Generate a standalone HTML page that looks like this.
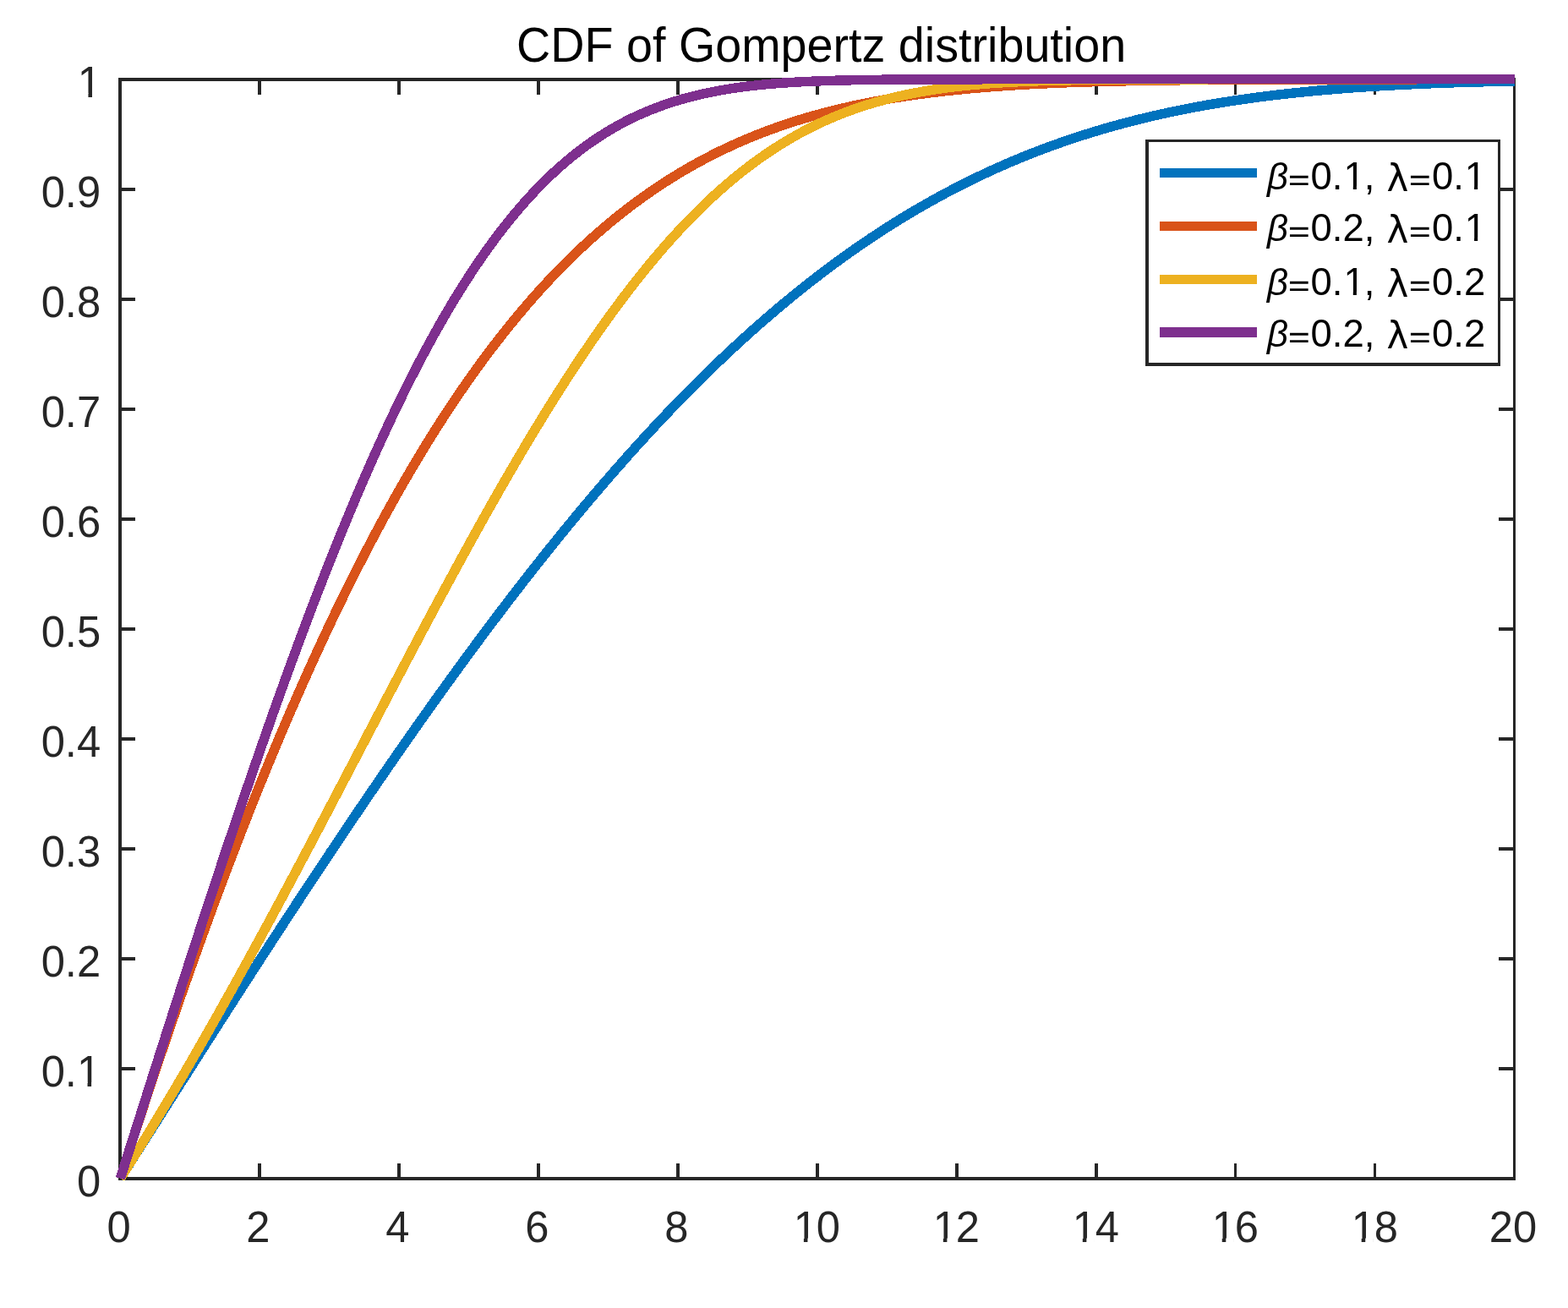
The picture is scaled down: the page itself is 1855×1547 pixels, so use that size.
<!DOCTYPE html>
<html lang="en"><head><meta charset="utf-8"><title>CDF of Gompertz distribution</title>
<style>html,body{margin:0;padding:0;background:#fff;width:1855px;height:1547px}svg{display:block}text{font-family:"Liberation Sans", sans-serif;white-space:pre}</style></head><body>
<svg width="1855" height="1547" viewBox="0 0 1855 1547">
<rect width="1855" height="1547" fill="#fff"/>
<g fill="#262626" shape-rendering="crispEdges">
<rect x="140" y="92" width="4" height="1304"/>
<rect x="1790" y="92" width="3" height="1304"/>
<rect x="140" y="92" width="1653" height="4"/>
<rect x="140" y="1392" width="1653" height="4"/>
<rect x="305" y="92" width="4" height="20"/><rect x="305" y="1376" width="4" height="20"/>
<rect x="470" y="92" width="4" height="20"/><rect x="470" y="1376" width="4" height="20"/>
<rect x="635" y="92" width="4" height="20"/><rect x="635" y="1376" width="4" height="20"/>
<rect x="800" y="92" width="4" height="20"/><rect x="800" y="1376" width="4" height="20"/>
<rect x="965" y="92" width="4" height="20"/><rect x="965" y="1376" width="4" height="20"/>
<rect x="1130" y="92" width="4" height="20"/><rect x="1130" y="1376" width="4" height="20"/>
<rect x="1295" y="92" width="4" height="20"/><rect x="1295" y="1376" width="4" height="20"/>
<rect x="1460" y="92" width="3" height="20"/><rect x="1460" y="1376" width="3" height="20"/>
<rect x="1625" y="92" width="3" height="20"/><rect x="1625" y="1376" width="3" height="20"/>
<rect x="140" y="1262" width="20" height="4"/><rect x="1773" y="1262" width="20" height="4"/>
<rect x="140" y="1132" width="20" height="4"/><rect x="1773" y="1132" width="20" height="4"/>
<rect x="140" y="1002" width="20" height="4"/><rect x="1773" y="1002" width="20" height="4"/>
<rect x="140" y="872" width="20" height="4"/><rect x="1773" y="872" width="20" height="4"/>
<rect x="140" y="742" width="20" height="4"/><rect x="1773" y="742" width="20" height="4"/>
<rect x="140" y="612" width="20" height="4"/><rect x="1773" y="612" width="20" height="4"/>
<rect x="140" y="482" width="20" height="4"/><rect x="1773" y="482" width="20" height="4"/>
<rect x="140" y="352" width="20" height="4"/><rect x="1773" y="352" width="20" height="4"/>
<rect x="140" y="222" width="20" height="4"/><rect x="1773" y="222" width="20" height="4"/>
</g>
<g fill="#262626" font-size="50.7">
<text transform="translate(140.5 1469.3) scale(1 1.03)" text-anchor="middle">0</text>
<text transform="translate(305.45 1469.3) scale(1 1.03)" text-anchor="middle">2</text>
<text transform="translate(470.4 1469.3) scale(1 1.03)" text-anchor="middle">4</text>
<text transform="translate(635.35 1469.3) scale(1 1.03)" text-anchor="middle">6</text>
<text transform="translate(800.3 1469.3) scale(1 1.03)" text-anchor="middle">8</text>
<text transform="translate(965.25 1469.3) scale(1 1.03)" text-anchor="middle" dx="1.2 -1.2">10</text>
<text transform="translate(1130.2 1469.3) scale(1 1.03)" text-anchor="middle" dx="1.2 -1.2">12</text>
<text transform="translate(1295.15 1469.3) scale(1 1.03)" text-anchor="middle" dx="1.2 -1.2">14</text>
<text transform="translate(1460.1 1469.3) scale(1 1.03)" text-anchor="middle" dx="1.2 -1.2">16</text>
<text transform="translate(1625.05 1469.3) scale(1 1.03)" text-anchor="middle" dx="1.2 -1.2">18</text>
<text transform="translate(1790 1469.3) scale(1 1.03)" text-anchor="middle">20</text>
<text transform="translate(119.1 1415) scale(1 1.03)" text-anchor="end">0</text>
<text transform="translate(119.1 1285) scale(1 1.03)" text-anchor="end">0.1</text>
<text transform="translate(119.1 1155) scale(1 1.03)" text-anchor="end">0.2</text>
<text transform="translate(119.1 1025) scale(1 1.03)" text-anchor="end">0.3</text>
<text transform="translate(119.1 895) scale(1 1.03)" text-anchor="end">0.4</text>
<text transform="translate(119.1 765) scale(1 1.03)" text-anchor="end">0.5</text>
<text transform="translate(119.1 635) scale(1 1.03)" text-anchor="end">0.6</text>
<text transform="translate(119.1 505) scale(1 1.03)" text-anchor="end">0.7</text>
<text transform="translate(119.1 375) scale(1 1.03)" text-anchor="end">0.8</text>
<text transform="translate(119.1 245) scale(1 1.03)" text-anchor="end">0.9</text>
<text transform="translate(120 115) scale(1 1.03)" text-anchor="end">1</text>
</g>
<text transform="translate(971.6 73.1) scale(1 1.04)" text-anchor="middle" font-size="55.7" fill="#000">CDF of Gompertz distribution</text>
<g fill="none" stroke-width="11.45" stroke-linejoin="round" stroke-linecap="butt" shape-rendering="crispEdges" transform="translate(0.33 -0.25)">
<polyline stroke="#0072BD" points="142,1394 145.3,1388.8 148.6,1383.6 151.9,1378.4 155.2,1373.2 158.5,1368 161.79,1362.8 165.09,1357.6 168.39,1352.41 171.69,1347.21 174.99,1342.01 178.29,1336.82 181.59,1331.62 184.89,1326.43 188.19,1321.24 191.49,1316.05 194.78,1310.86 198.08,1305.67 201.38,1300.48 204.68,1295.3 207.98,1290.11 211.28,1284.93 214.58,1279.75 217.88,1274.57 221.18,1269.4 224.47,1264.22 227.77,1259.05 231.07,1253.88 234.37,1248.71 237.67,1243.55 240.97,1238.39 244.27,1233.23 247.57,1228.07 250.87,1222.91 254.17,1217.76 257.46,1212.61 260.76,1207.47 264.06,1202.33 267.36,1197.19 270.66,1192.05 273.96,1186.92 277.26,1181.79 280.56,1176.67 283.86,1171.55 287.16,1166.43 290.45,1161.32 293.75,1156.21 297.05,1151.1 300.35,1146 303.65,1140.9 306.95,1135.81 310.25,1130.72 313.55,1125.64 316.85,1120.56 320.15,1115.49 323.44,1110.42 326.74,1105.36 330.04,1100.3 333.34,1095.25 336.64,1090.2 339.94,1085.15 343.24,1080.12 346.54,1075.09 349.84,1070.06 353.14,1065.04 356.44,1060.02 359.73,1055.02 363.03,1050.01 366.33,1045.02 369.63,1040.03 372.93,1035.04 376.23,1030.07 379.53,1025.1 382.83,1020.13 386.13,1015.17 389.43,1010.22 392.72,1005.28 396.02,1000.34 399.32,995.41 402.62,990.49 405.92,985.58 409.22,980.67 412.52,975.77 415.82,970.88 419.12,965.99 422.42,961.12 425.71,956.25 429.01,951.39 432.31,946.53 435.61,941.69 438.91,936.85 442.21,932.02 445.51,927.2 448.81,922.39 452.11,917.59 455.4,912.8 458.7,908.01 462,903.24 465.3,898.47 468.6,893.71 471.9,888.96 475.2,884.22 478.5,879.49 481.8,874.77 485.1,870.06 488.4,865.36 491.69,860.67 494.99,855.99 498.29,851.32 501.59,846.66 504.89,842.01 508.19,837.37 511.49,832.74 514.79,828.12 518.09,823.51 521.38,818.91 524.68,814.32 527.98,809.74 531.28,805.18 534.58,800.62 537.88,796.08 541.18,791.55 544.48,787.02 547.78,782.51 551.08,778.02 554.38,773.53 557.67,769.05 560.97,764.59 564.27,760.14 567.57,755.7 570.87,751.27 574.17,746.85 577.47,742.45 580.77,738.06 584.07,733.68 587.37,729.31 590.66,724.96 593.96,720.61 597.26,716.28 600.56,711.97 603.86,707.66 607.16,703.37 610.46,699.1 613.76,694.83 617.06,690.58 620.36,686.34 623.65,682.12 626.95,677.9 630.25,673.71 633.55,669.52 636.85,665.35 640.15,661.19 643.45,657.05 646.75,652.92 650.05,648.8 653.35,644.7 656.64,640.61 659.94,636.54 663.24,632.48 666.54,628.43 669.84,624.4 673.14,620.39 676.44,616.39 679.74,612.4 683.04,608.43 686.33,604.47 689.63,600.52 692.93,596.6 696.23,592.68 699.53,588.78 702.83,584.9 706.13,581.03 709.43,577.18 712.73,573.34 716.03,569.52 719.33,565.71 722.62,561.92 725.92,558.14 729.22,554.38 732.52,550.64 735.82,546.91 739.12,543.19 742.42,539.49 745.72,535.81 749.02,532.15 752.32,528.49 755.61,524.86 758.91,521.24 762.21,517.64 765.51,514.05 768.81,510.48 772.11,506.93 775.41,503.39 778.71,499.87 782.01,496.36 785.31,492.87 788.6,489.4 791.9,485.95 795.2,482.51 798.5,479.08 801.8,475.68 805.1,472.29 808.4,468.92 811.7,465.56 815,462.22 818.29,458.9 821.59,455.59 824.89,452.3 828.19,449.03 831.49,445.78 834.79,442.54 838.09,439.32 841.39,436.12 844.69,432.93 847.99,429.76 851.28,426.61 854.58,423.47 857.88,420.35 861.18,417.25 864.48,414.17 867.78,411.1 871.08,408.05 874.38,405.02 877.68,402 880.98,399.01 884.27,396.03 887.57,393.06 890.87,390.12 894.17,387.19 897.47,384.28 900.77,381.39 904.07,378.51 907.37,375.65 910.67,372.81 913.97,369.99 917.27,367.18 920.56,364.39 923.86,361.62 927.16,358.87 930.46,356.13 933.76,353.41 937.06,350.71 940.36,348.03 943.66,345.36 946.96,342.71 950.25,340.08 953.55,337.47 956.85,334.87 960.15,332.29 963.45,329.73 966.75,327.19 970.05,324.66 973.35,322.15 976.65,319.66 979.95,317.18 983.24,314.73 986.54,312.29 989.84,309.86 993.14,307.46 996.44,305.07 999.74,302.7 1003.04,300.35 1006.34,298.01 1009.64,295.69 1012.94,293.39 1016.24,291.11 1019.53,288.84 1022.83,286.59 1026.13,284.36 1029.43,282.14 1032.73,279.94 1036.03,277.76 1039.33,275.6 1042.63,273.45 1045.93,271.32 1049.22,269.2 1052.52,267.11 1055.82,265.03 1059.12,262.96 1062.42,260.92 1065.72,258.89 1069.02,256.87 1072.32,254.88 1075.62,252.9 1078.92,250.94 1082.21,248.99 1085.51,247.06 1088.81,245.14 1092.11,243.25 1095.41,241.37 1098.71,239.5 1102.01,237.65 1105.31,235.82 1108.61,234 1111.91,232.2 1115.21,230.42 1118.5,228.65 1121.8,226.9 1125.1,225.17 1128.4,223.45 1131.7,221.74 1135,220.05 1138.3,218.38 1141.6,216.72 1144.9,215.08 1148.19,213.45 1151.49,211.84 1154.79,210.25 1158.09,208.67 1161.39,207.1 1164.69,205.55 1167.99,204.02 1171.29,202.5 1174.59,201 1177.89,199.51 1181.18,198.03 1184.48,196.57 1187.78,195.13 1191.08,193.7 1194.38,192.28 1197.68,190.88 1200.98,189.49 1204.28,188.12 1207.58,186.76 1210.88,185.42 1214.17,184.09 1217.47,182.78 1220.77,181.47 1224.07,180.19 1227.37,178.91 1230.67,177.65 1233.97,176.41 1237.27,175.18 1240.57,173.96 1243.87,172.75 1247.16,171.56 1250.46,170.38 1253.76,169.22 1257.06,168.07 1260.36,166.93 1263.66,165.8 1266.96,164.69 1270.26,163.59 1273.56,162.5 1276.86,161.43 1280.16,160.37 1283.45,159.32 1286.75,158.28 1290.05,157.26 1293.35,156.25 1296.65,155.25 1299.95,154.26 1303.25,153.28 1306.55,152.32 1309.85,151.37 1313.14,150.43 1316.44,149.5 1319.74,148.59 1323.04,147.68 1326.34,146.79 1329.64,145.91 1332.94,145.03 1336.24,144.18 1339.54,143.33 1342.84,142.49 1346.13,141.66 1349.43,140.85 1352.73,140.04 1356.03,139.25 1359.33,138.47 1362.63,137.69 1365.93,136.93 1369.23,136.18 1372.53,135.44 1375.83,134.7 1379.12,133.98 1382.42,133.27 1385.72,132.57 1389.02,131.88 1392.32,131.19 1395.62,130.52 1398.92,129.86 1402.22,129.2 1405.52,128.56 1408.82,127.92 1412.12,127.3 1415.41,126.68 1418.71,126.07 1422.01,125.48 1425.31,124.89 1428.61,124.3 1431.91,123.73 1435.21,123.17 1438.51,122.61 1441.81,122.07 1445.11,121.53 1448.4,121 1451.7,120.47 1455,119.96 1458.3,119.45 1461.6,118.96 1464.9,118.46 1468.2,117.98 1471.5,117.51 1474.8,117.04 1478.09,116.58 1481.39,116.13 1484.69,115.68 1487.99,115.24 1491.29,114.81 1494.59,114.39 1497.89,113.97 1501.19,113.56 1504.49,113.16 1507.79,112.76 1511.09,112.37 1514.38,111.99 1517.68,111.61 1520.98,111.24 1524.28,110.88 1527.58,110.52 1530.88,110.17 1534.18,109.82 1537.48,109.48 1540.78,109.15 1544.08,108.82 1547.37,108.5 1550.67,108.19 1553.97,107.88 1557.27,107.57 1560.57,107.27 1563.87,106.98 1567.17,106.69 1570.47,106.41 1573.77,106.13 1577.07,105.86 1580.36,105.59 1583.66,105.33 1586.96,105.07 1590.26,104.81 1593.56,104.57 1596.86,104.32 1600.16,104.08 1603.46,103.85 1606.76,103.62 1610.06,103.4 1613.35,103.18 1616.65,102.96 1619.95,102.75 1623.25,102.54 1626.55,102.34 1629.85,102.14 1633.15,101.94 1636.45,101.75 1639.75,101.56 1643.04,101.38 1646.34,101.2 1649.64,101.02 1652.94,100.85 1656.24,100.68 1659.54,100.51 1662.84,100.35 1666.14,100.19 1669.44,100.03 1672.74,99.88 1676.04,99.73 1679.33,99.59 1682.63,99.45 1685.93,99.31 1689.23,99.17 1692.53,99.04 1695.83,98.91 1699.13,98.78 1702.43,98.65 1705.73,98.53 1709.03,98.41 1712.32,98.29 1715.62,98.18 1718.92,98.07 1722.22,97.96 1725.52,97.85 1728.82,97.75 1732.12,97.65 1735.42,97.55 1738.72,97.45 1742.01,97.36 1745.31,97.27 1748.61,97.18 1751.91,97.09 1755.21,97 1758.51,96.92 1761.81,96.84 1765.11,96.76 1768.41,96.68 1771.71,96.6 1775.01,96.53 1778.3,96.46 1781.6,96.39 1784.9,96.32 1788.2,96.25 1791.5,96.18"/>
<polyline stroke="#D95319" points="142,1394 145.3,1383.62 148.6,1373.28 151.9,1362.99 155.2,1352.73 158.5,1342.52 161.79,1332.35 165.09,1322.23 168.39,1312.15 171.69,1302.1 174.99,1292.11 178.29,1282.15 181.59,1272.24 184.89,1262.37 188.19,1252.55 191.49,1242.77 194.78,1233.03 198.08,1223.34 201.38,1213.69 204.68,1204.09 207.98,1194.53 211.28,1185.01 214.58,1175.54 217.88,1166.12 221.18,1156.74 224.47,1147.4 227.77,1138.11 231.07,1128.86 234.37,1119.66 237.67,1110.51 240.97,1101.4 244.27,1092.33 247.57,1083.32 250.87,1074.34 254.17,1065.42 257.46,1056.54 260.76,1047.7 264.06,1038.91 267.36,1030.17 270.66,1021.48 273.96,1012.83 277.26,1004.22 280.56,995.67 283.86,987.16 287.16,978.7 290.45,970.28 293.75,961.91 297.05,953.59 300.35,945.31 303.65,937.08 306.95,928.9 310.25,920.77 313.55,912.68 316.85,904.64 320.15,896.65 323.44,888.7 326.74,880.8 330.04,872.95 333.34,865.15 336.64,857.39 339.94,849.68 343.24,842.02 346.54,834.41 349.84,826.84 353.14,819.32 356.44,811.85 359.73,804.42 363.03,797.05 366.33,789.72 369.63,782.44 372.93,775.2 376.23,768.02 379.53,760.88 382.83,753.78 386.13,746.74 389.43,739.74 392.72,732.79 396.02,725.89 399.32,719.04 402.62,712.23 405.92,705.47 409.22,698.76 412.52,692.09 415.82,685.47 419.12,678.9 422.42,672.38 425.71,665.9 429.01,659.47 432.31,653.09 435.61,646.75 438.91,640.46 442.21,634.22 445.51,628.02 448.81,621.87 452.11,615.77 455.4,609.71 458.7,603.7 462,597.74 465.3,591.82 468.6,585.95 471.9,580.13 475.2,574.35 478.5,568.62 481.8,562.93 485.1,557.29 488.4,551.69 491.69,546.14 494.99,540.64 498.29,535.18 501.59,529.76 504.89,524.4 508.19,519.07 511.49,513.79 514.79,508.56 518.09,503.37 521.38,498.22 524.68,493.12 527.98,488.07 531.28,483.06 534.58,478.09 537.88,473.16 541.18,468.28 544.48,463.45 547.78,458.65 551.08,453.91 554.38,449.2 557.67,444.54 560.97,439.91 564.27,435.34 567.57,430.8 570.87,426.31 574.17,421.86 577.47,417.45 580.77,413.08 584.07,408.76 587.37,404.48 590.66,400.23 593.96,396.03 597.26,391.87 600.56,387.76 603.86,383.68 607.16,379.64 610.46,375.65 613.76,371.69 617.06,367.77 620.36,363.9 623.65,360.06 626.95,356.26 630.25,352.51 633.55,348.79 636.85,345.11 640.15,341.47 643.45,337.86 646.75,334.3 650.05,330.77 653.35,327.29 656.64,323.84 659.94,320.42 663.24,317.05 666.54,313.71 669.84,310.41 673.14,307.14 676.44,303.91 679.74,300.72 683.04,297.56 686.33,294.44 689.63,291.36 692.93,288.31 696.23,285.3 699.53,282.32 702.83,279.37 706.13,276.46 709.43,273.59 712.73,270.74 716.03,267.94 719.33,265.16 722.62,262.42 725.92,259.71 729.22,257.04 732.52,254.4 735.82,251.79 739.12,249.21 742.42,246.67 745.72,244.15 749.02,241.67 752.32,239.22 755.61,236.8 758.91,234.41 762.21,232.05 765.51,229.73 768.81,227.43 772.11,225.16 775.41,222.92 778.71,220.71 782.01,218.54 785.31,216.39 788.6,214.26 791.9,212.17 795.2,210.11 798.5,208.07 801.8,206.06 805.1,204.08 808.4,202.12 811.7,200.2 815,198.3 818.29,196.42 821.59,194.58 824.89,192.76 828.19,190.96 831.49,189.19 834.79,187.45 838.09,185.73 841.39,184.03 844.69,182.36 847.99,180.72 851.28,179.1 854.58,177.5 857.88,175.93 861.18,174.38 864.48,172.85 867.78,171.35 871.08,169.87 874.38,168.41 877.68,166.97 880.98,165.56 884.27,164.17 887.57,162.8 890.87,161.45 894.17,160.12 897.47,158.82 900.77,157.53 904.07,156.27 907.37,155.02 910.67,153.8 913.97,152.59 917.27,151.41 920.56,150.24 923.86,149.09 927.16,147.97 930.46,146.86 933.76,145.77 937.06,144.69 940.36,143.64 943.66,142.6 946.96,141.58 950.25,140.58 953.55,139.6 956.85,138.63 960.15,137.68 963.45,136.75 966.75,135.83 970.05,134.93 973.35,134.04 976.65,133.17 979.95,132.32 983.24,131.48 986.54,130.65 989.84,129.84 993.14,129.05 996.44,128.27 999.74,127.5 1003.04,126.75 1006.34,126.02 1009.64,125.29 1012.94,124.58 1016.24,123.89 1019.53,123.2 1022.83,122.53 1026.13,121.87 1029.43,121.23 1032.73,120.6 1036.03,119.98 1039.33,119.37 1042.63,118.77 1045.93,118.19 1049.22,117.61 1052.52,117.05 1055.82,116.5 1059.12,115.96 1062.42,115.43 1065.72,114.91 1069.02,114.41 1072.32,113.91 1075.62,113.42 1078.92,112.95 1082.21,112.48 1085.51,112.02 1088.81,111.57 1092.11,111.13 1095.41,110.71 1098.71,110.29 1102.01,109.87 1105.31,109.47 1108.61,109.08 1111.91,108.69 1115.21,108.32 1118.5,107.95 1121.8,107.59 1125.1,107.23 1128.4,106.89 1131.7,106.55 1135,106.22 1138.3,105.9 1141.6,105.59 1144.9,105.28 1148.19,104.98 1151.49,104.68 1154.79,104.4 1158.09,104.11 1161.39,103.84 1164.69,103.57 1167.99,103.31 1171.29,103.06 1174.59,102.81 1177.89,102.56 1181.18,102.33 1184.48,102.09 1187.78,101.87 1191.08,101.65 1194.38,101.43 1197.68,101.22 1200.98,101.01 1204.28,100.81 1207.58,100.62 1210.88,100.43 1214.17,100.24 1217.47,100.06 1220.77,99.89 1224.07,99.71 1227.37,99.55 1230.67,99.38 1233.97,99.22 1237.27,99.07 1240.57,98.92 1243.87,98.77 1247.16,98.63 1250.46,98.49 1253.76,98.35 1257.06,98.22 1260.36,98.09 1263.66,97.97 1266.96,97.84 1270.26,97.73 1273.56,97.61 1276.86,97.5 1280.16,97.39 1283.45,97.28 1286.75,97.18 1290.05,97.08 1293.35,96.98 1296.65,96.89 1299.95,96.79 1303.25,96.7 1306.55,96.62 1309.85,96.53 1313.14,96.45 1316.44,96.37 1319.74,96.29 1323.04,96.22 1326.34,96.14 1329.64,96.07 1332.94,96 1336.24,95.94 1339.54,95.87 1342.84,95.81 1346.13,95.75 1349.43,95.69 1352.73,95.63 1356.03,95.57 1359.33,95.52 1362.63,95.47 1365.93,95.42 1369.23,95.37 1372.53,95.32 1375.83,95.27 1379.12,95.23 1382.42,95.19 1385.72,95.14 1389.02,95.1 1392.32,95.06 1395.62,95.03 1398.92,94.99 1402.22,94.95 1405.52,94.92 1408.82,94.89 1412.12,94.85 1415.41,94.82 1418.71,94.79 1422.01,94.76 1425.31,94.73 1428.61,94.71 1431.91,94.68 1435.21,94.65 1438.51,94.63 1441.81,94.61 1445.11,94.58 1448.4,94.56 1451.7,94.54 1455,94.52 1458.3,94.5 1461.6,94.48 1464.9,94.46 1468.2,94.44 1471.5,94.43 1474.8,94.41 1478.09,94.39 1481.39,94.38 1484.69,94.36 1487.99,94.35 1491.29,94.33 1494.59,94.32 1497.89,94.31 1501.19,94.29 1504.49,94.28 1507.79,94.27 1511.09,94.26 1514.38,94.25 1517.68,94.24 1520.98,94.23 1524.28,94.22 1527.58,94.21 1530.88,94.2 1534.18,94.19 1537.48,94.18 1540.78,94.18 1544.08,94.17 1547.37,94.16 1550.67,94.15 1553.97,94.15 1557.27,94.14 1560.57,94.14 1563.87,94.13 1567.17,94.12 1570.47,94.12 1573.77,94.11 1577.07,94.11 1580.36,94.1 1583.66,94.1 1586.96,94.09 1590.26,94.09 1593.56,94.09 1596.86,94.08 1600.16,94.08 1603.46,94.07 1606.76,94.07 1610.06,94.07 1613.35,94.06 1616.65,94.06 1619.95,94.06 1623.25,94.06 1626.55,94.05 1629.85,94.05 1633.15,94.05 1636.45,94.05 1639.75,94.04 1643.04,94.04 1646.34,94.04 1649.64,94.04 1652.94,94.04 1656.24,94.03 1659.54,94.03 1662.84,94.03 1666.14,94.03 1669.44,94.03 1672.74,94.03 1676.04,94.03 1679.33,94.02 1682.63,94.02 1685.93,94.02 1689.23,94.02 1692.53,94.02 1695.83,94.02 1699.13,94.02 1702.43,94.02 1705.73,94.02 1709.03,94.01 1712.32,94.01 1715.62,94.01 1718.92,94.01 1722.22,94.01 1725.52,94.01 1728.82,94.01 1732.12,94.01 1735.42,94.01 1738.72,94.01 1742.01,94.01 1745.31,94.01 1748.61,94.01 1751.91,94.01 1755.21,94.01 1758.51,94.01 1761.81,94.01 1765.11,94.01 1768.41,94.01 1771.71,94.01 1775.01,94 1778.3,94 1781.6,94 1784.9,94 1788.2,94 1791.5,94"/>
<polyline stroke="#EDB120" points="142,1394 145.3,1388.79 148.6,1383.56 151.9,1378.31 155.2,1373.03 158.5,1367.74 161.79,1362.43 165.09,1357.1 168.39,1351.74 171.69,1346.37 174.99,1340.98 178.29,1335.56 181.59,1330.13 184.89,1324.68 188.19,1319.2 191.49,1313.71 194.78,1308.2 198.08,1302.67 201.38,1297.12 204.68,1291.56 207.98,1285.97 211.28,1280.37 214.58,1274.74 217.88,1269.1 221.18,1263.44 224.47,1257.77 227.77,1252.07 231.07,1246.36 234.37,1240.63 237.67,1234.89 240.97,1229.12 244.27,1223.34 247.57,1217.54 250.87,1211.73 254.17,1205.9 257.46,1200.05 260.76,1194.19 264.06,1188.32 267.36,1182.42 270.66,1176.51 273.96,1170.59 277.26,1164.65 280.56,1158.7 283.86,1152.74 287.16,1146.75 290.45,1140.76 293.75,1134.75 297.05,1128.73 300.35,1122.7 303.65,1116.65 306.95,1110.59 310.25,1104.52 313.55,1098.43 316.85,1092.33 320.15,1086.23 323.44,1080.11 326.74,1073.98 330.04,1067.84 333.34,1061.69 336.64,1055.53 339.94,1049.35 343.24,1043.17 346.54,1036.98 349.84,1030.79 353.14,1024.58 356.44,1018.36 359.73,1012.14 363.03,1005.91 366.33,999.67 369.63,993.43 372.93,987.18 376.23,980.92 379.53,974.65 382.83,968.39 386.13,962.11 389.43,955.83 392.72,949.55 396.02,943.26 399.32,936.97 402.62,930.67 405.92,924.38 409.22,918.08 412.52,911.77 415.82,905.47 419.12,899.16 422.42,892.86 425.71,886.55 429.01,880.24 432.31,873.93 435.61,867.63 438.91,861.32 442.21,855.01 445.51,848.71 448.81,842.41 452.11,836.11 455.4,829.82 458.7,823.53 462,817.24 465.3,810.95 468.6,804.68 471.9,798.4 475.2,792.13 478.5,785.87 481.8,779.62 485.1,773.37 488.4,767.13 491.69,760.9 494.99,754.67 498.29,748.46 501.59,742.25 504.89,736.05 508.19,729.87 511.49,723.69 514.79,717.53 518.09,711.37 521.38,705.23 524.68,699.1 527.98,692.99 531.28,686.88 534.58,680.8 537.88,674.72 541.18,668.66 544.48,662.62 547.78,656.59 551.08,650.58 554.38,644.58 557.67,638.61 560.97,632.65 564.27,626.7 567.57,620.78 570.87,614.88 574.17,608.99 577.47,603.13 580.77,597.28 584.07,591.46 587.37,585.66 590.66,579.88 593.96,574.12 597.26,568.38 600.56,562.67 603.86,556.98 607.16,551.32 610.46,545.68 613.76,540.07 617.06,534.48 620.36,528.92 623.65,523.38 626.95,517.87 630.25,512.39 633.55,506.93 636.85,501.51 640.15,496.11 643.45,490.74 646.75,485.4 650.05,480.09 653.35,474.81 656.64,469.57 659.94,464.35 663.24,459.16 666.54,454.01 669.84,448.89 673.14,443.8 676.44,438.74 679.74,433.72 683.04,428.73 686.33,423.77 689.63,418.85 692.93,413.97 696.23,409.12 699.53,404.3 702.83,399.52 706.13,394.78 709.43,390.07 712.73,385.4 716.03,380.77 719.33,376.17 722.62,371.61 725.92,367.09 729.22,362.61 732.52,358.17 735.82,353.76 739.12,349.4 742.42,345.07 745.72,340.78 749.02,336.54 752.32,332.33 755.61,328.16 758.91,324.03 762.21,319.95 765.51,315.9 768.81,311.89 772.11,307.93 775.41,304.01 778.71,300.12 782.01,296.28 785.31,292.48 788.6,288.73 791.9,285.01 795.2,281.34 798.5,277.71 801.8,274.12 805.1,270.57 808.4,267.06 811.7,263.6 815,260.18 818.29,256.8 821.59,253.47 824.89,250.17 828.19,246.92 831.49,243.71 834.79,240.55 838.09,237.42 841.39,234.34 844.69,231.3 847.99,228.3 851.28,225.35 854.58,222.44 857.88,219.56 861.18,216.74 864.48,213.95 867.78,211.2 871.08,208.5 874.38,205.84 877.68,203.21 880.98,200.63 884.27,198.09 887.57,195.6 890.87,193.14 894.17,190.72 897.47,188.34 900.77,186.01 904.07,183.71 907.37,181.45 910.67,179.23 913.97,177.05 917.27,174.91 920.56,172.81 923.86,170.75 927.16,168.72 930.46,166.73 933.76,164.78 937.06,162.87 940.36,161 943.66,159.16 946.96,157.35 950.25,155.59 953.55,153.86 956.85,152.16 960.15,150.5 963.45,148.87 966.75,147.28 970.05,145.72 973.35,144.2 976.65,142.71 979.95,141.25 983.24,139.82 986.54,138.43 989.84,137.07 993.14,135.74 996.44,134.44 999.74,133.17 1003.04,131.93 1006.34,130.72 1009.64,129.54 1012.94,128.39 1016.24,127.27 1019.53,126.17 1022.83,125.1 1026.13,124.07 1029.43,123.05 1032.73,122.07 1036.03,121.11 1039.33,120.17 1042.63,119.26 1045.93,118.38 1049.22,117.51 1052.52,116.68 1055.82,115.86 1059.12,115.07 1062.42,114.31 1065.72,113.56 1069.02,112.84 1072.32,112.13 1075.62,111.45 1078.92,110.79 1082.21,110.15 1085.51,109.53 1088.81,108.92 1092.11,108.34 1095.41,107.77 1098.71,107.23 1102.01,106.7 1105.31,106.19 1108.61,105.69 1111.91,105.21 1115.21,104.75 1118.5,104.3 1121.8,103.87 1125.1,103.45 1128.4,103.05 1131.7,102.66 1135,102.28 1138.3,101.92 1141.6,101.57 1144.9,101.24 1148.19,100.91 1151.49,100.6 1154.79,100.3 1158.09,100.02 1161.39,99.74 1164.69,99.47 1167.99,99.21 1171.29,98.97 1174.59,98.73 1177.89,98.51 1181.18,98.29 1184.48,98.08 1187.78,97.88 1191.08,97.69 1194.38,97.5 1197.68,97.33 1200.98,97.16 1204.28,97 1207.58,96.84 1210.88,96.7 1214.17,96.56 1217.47,96.42 1220.77,96.29 1224.07,96.17 1227.37,96.05 1230.67,95.94 1233.97,95.84 1237.27,95.73 1240.57,95.64 1243.87,95.55 1247.16,95.46 1250.46,95.38 1253.76,95.3 1257.06,95.22 1260.36,95.15 1263.66,95.08 1266.96,95.02 1270.26,94.96 1273.56,94.9 1276.86,94.85 1280.16,94.79 1283.45,94.75 1286.75,94.7 1290.05,94.66 1293.35,94.61 1296.65,94.58 1299.95,94.54 1303.25,94.5 1306.55,94.47 1309.85,94.44 1313.14,94.41 1316.44,94.38 1319.74,94.36 1323.04,94.33 1326.34,94.31 1329.64,94.29 1332.94,94.27 1336.24,94.25 1339.54,94.23 1342.84,94.22 1346.13,94.2 1349.43,94.19 1352.73,94.17 1356.03,94.16 1359.33,94.15 1362.63,94.14 1365.93,94.13 1369.23,94.12 1372.53,94.11 1375.83,94.1 1379.12,94.09 1382.42,94.09 1385.72,94.08 1389.02,94.07 1392.32,94.07 1395.62,94.06 1398.92,94.06 1402.22,94.05 1405.52,94.05 1408.82,94.04 1412.12,94.04 1415.41,94.04 1418.71,94.03 1422.01,94.03 1425.31,94.03 1428.61,94.03 1431.91,94.02 1435.21,94.02 1438.51,94.02 1441.81,94.02 1445.11,94.02 1448.4,94.01 1451.7,94.01 1455,94.01 1458.3,94.01 1461.6,94.01 1464.9,94.01 1468.2,94.01 1471.5,94.01 1474.8,94.01 1478.09,94.01 1481.39,94.01 1484.69,94 1487.99,94 1491.29,94 1494.59,94 1497.89,94 1501.19,94 1504.49,94 1507.79,94 1511.09,94 1514.38,94 1517.68,94 1520.98,94 1524.28,94 1527.58,94 1530.88,94 1534.18,94 1537.48,94 1540.78,94 1544.08,94 1547.37,94 1550.67,94 1553.97,94 1557.27,94 1560.57,94 1563.87,94 1567.17,94 1570.47,94 1573.77,94 1577.07,94 1580.36,94 1583.66,94 1586.96,94 1590.26,94 1593.56,94 1596.86,94 1600.16,94 1603.46,94 1606.76,94 1610.06,94 1613.35,94 1616.65,94 1619.95,94 1623.25,94 1626.55,94 1629.85,94 1633.15,94 1636.45,94 1639.75,94 1643.04,94 1646.34,94 1649.64,94 1652.94,94 1656.24,94 1659.54,94 1662.84,94 1666.14,94 1669.44,94 1672.74,94 1676.04,94 1679.33,94 1682.63,94 1685.93,94 1689.23,94 1692.53,94 1695.83,94 1699.13,94 1702.43,94 1705.73,94 1709.03,94 1712.32,94 1715.62,94 1718.92,94 1722.22,94 1725.52,94 1728.82,94 1732.12,94 1735.42,94 1738.72,94 1742.01,94 1745.31,94 1748.61,94 1751.91,94 1755.21,94 1758.51,94 1761.81,94 1765.11,94 1768.41,94 1771.71,94 1775.01,94 1778.3,94 1781.6,94 1784.9,94 1788.2,94 1791.5,94"/>
<polyline stroke="#7E2F8E" points="142,1394 145.3,1383.6 148.6,1373.2 151.9,1362.8 155.2,1352.41 158.5,1342.01 161.79,1331.62 165.09,1321.24 168.39,1310.86 171.69,1300.48 174.99,1290.11 178.29,1279.75 181.59,1269.4 184.89,1259.05 188.19,1248.71 191.49,1238.39 194.78,1228.07 198.08,1217.76 201.38,1207.47 204.68,1197.19 207.98,1186.92 211.28,1176.67 214.58,1166.43 217.88,1156.21 221.18,1146 224.47,1135.81 227.77,1125.64 231.07,1115.49 234.37,1105.36 237.67,1095.25 240.97,1085.15 244.27,1075.09 247.57,1065.04 250.87,1055.02 254.17,1045.02 257.46,1035.04 260.76,1025.1 264.06,1015.17 267.36,1005.28 270.66,995.41 273.96,985.58 277.26,975.77 280.56,965.99 283.86,956.25 287.16,946.53 290.45,936.85 293.75,927.2 297.05,917.59 300.35,908.01 303.65,898.47 306.95,888.96 310.25,879.49 313.55,870.06 316.85,860.67 320.15,851.32 323.44,842.01 326.74,832.74 330.04,823.51 333.34,814.32 336.64,805.18 339.94,796.08 343.24,787.02 346.54,778.02 349.84,769.05 353.14,760.14 356.44,751.27 359.73,742.45 363.03,733.68 366.33,724.96 369.63,716.28 372.93,707.66 376.23,699.1 379.53,690.58 382.83,682.12 386.13,673.71 389.43,665.35 392.72,657.05 396.02,648.8 399.32,640.61 402.62,632.48 405.92,624.4 409.22,616.39 412.52,608.43 415.82,600.52 419.12,592.68 422.42,584.9 425.71,577.18 429.01,569.52 432.31,561.92 435.61,554.38 438.91,546.91 442.21,539.49 445.51,532.15 448.81,524.86 452.11,517.64 455.4,510.48 458.7,503.39 462,496.36 465.3,489.4 468.6,482.51 471.9,475.68 475.2,468.92 478.5,462.22 481.8,455.59 485.1,449.03 488.4,442.54 491.69,436.12 494.99,429.76 498.29,423.47 501.59,417.25 504.89,411.1 508.19,405.02 511.49,399.01 514.79,393.06 518.09,387.19 521.38,381.39 524.68,375.65 527.98,369.99 531.28,364.39 534.58,358.87 537.88,353.41 541.18,348.03 544.48,342.71 547.78,337.47 551.08,332.29 554.38,327.19 557.67,322.15 560.97,317.18 564.27,312.29 567.57,307.46 570.87,302.7 574.17,298.01 577.47,293.39 580.77,288.84 584.07,284.36 587.37,279.94 590.66,275.6 593.96,271.32 597.26,267.11 600.56,262.96 603.86,258.89 607.16,254.88 610.46,250.94 613.76,247.06 617.06,243.25 620.36,239.5 623.65,235.82 626.95,232.2 630.25,228.65 633.55,225.17 636.85,221.74 640.15,218.38 643.45,215.08 646.75,211.84 650.05,208.67 653.35,205.55 656.64,202.5 659.94,199.51 663.24,196.57 666.54,193.7 669.84,190.88 673.14,188.12 676.44,185.42 679.74,182.78 683.04,180.19 686.33,177.65 689.63,175.18 692.93,172.75 696.23,170.38 699.53,168.07 702.83,165.8 706.13,163.59 709.43,161.43 712.73,159.32 716.03,157.26 719.33,155.25 722.62,153.28 725.92,151.37 729.22,149.5 732.52,147.68 735.82,145.91 739.12,144.18 742.42,142.49 745.72,140.85 749.02,139.25 752.32,137.69 755.61,136.18 758.91,134.7 762.21,133.27 765.51,131.88 768.81,130.52 772.11,129.2 775.41,127.92 778.71,126.68 782.01,125.48 785.31,124.3 788.6,123.17 791.9,122.07 795.2,121 798.5,119.96 801.8,118.96 805.1,117.98 808.4,117.04 811.7,116.13 815,115.24 818.29,114.39 821.59,113.56 824.89,112.76 828.19,111.99 831.49,111.24 834.79,110.52 838.09,109.82 841.39,109.15 844.69,108.5 847.99,107.88 851.28,107.27 854.58,106.69 857.88,106.13 861.18,105.59 864.48,105.07 867.78,104.57 871.08,104.08 874.38,103.62 877.68,103.18 880.98,102.75 884.27,102.34 887.57,101.94 890.87,101.56 894.17,101.2 897.47,100.85 900.77,100.51 904.07,100.19 907.37,99.88 910.67,99.59 913.97,99.31 917.27,99.04 920.56,98.78 923.86,98.53 927.16,98.29 930.46,98.07 933.76,97.85 937.06,97.65 940.36,97.45 943.66,97.27 946.96,97.09 950.25,96.92 953.55,96.76 956.85,96.6 960.15,96.46 963.45,96.32 966.75,96.18 970.05,96.06 973.35,95.94 976.65,95.83 979.95,95.72 983.24,95.62 986.54,95.52 989.84,95.43 993.14,95.34 996.44,95.26 999.74,95.18 1003.04,95.11 1006.34,95.04 1009.64,94.97 1012.94,94.91 1016.24,94.85 1019.53,94.8 1022.83,94.74 1026.13,94.7 1029.43,94.65 1032.73,94.61 1036.03,94.57 1039.33,94.53 1042.63,94.49 1045.93,94.46 1049.22,94.43 1052.52,94.4 1055.82,94.37 1059.12,94.34 1062.42,94.32 1065.72,94.29 1069.02,94.27 1072.32,94.25 1075.62,94.23 1078.92,94.22 1082.21,94.2 1085.51,94.19 1088.81,94.17 1092.11,94.16 1095.41,94.15 1098.71,94.13 1102.01,94.12 1105.31,94.11 1108.61,94.11 1111.91,94.1 1115.21,94.09 1118.5,94.08 1121.8,94.07 1125.1,94.07 1128.4,94.06 1131.7,94.06 1135,94.05 1138.3,94.05 1141.6,94.04 1144.9,94.04 1148.19,94.04 1151.49,94.03 1154.79,94.03 1158.09,94.03 1161.39,94.03 1164.69,94.02 1167.99,94.02 1171.29,94.02 1174.59,94.02 1177.89,94.02 1181.18,94.01 1184.48,94.01 1187.78,94.01 1191.08,94.01 1194.38,94.01 1197.68,94.01 1200.98,94.01 1204.28,94.01 1207.58,94.01 1210.88,94.01 1214.17,94.01 1217.47,94 1220.77,94 1224.07,94 1227.37,94 1230.67,94 1233.97,94 1237.27,94 1240.57,94 1243.87,94 1247.16,94 1250.46,94 1253.76,94 1257.06,94 1260.36,94 1263.66,94 1266.96,94 1270.26,94 1273.56,94 1276.86,94 1280.16,94 1283.45,94 1286.75,94 1290.05,94 1293.35,94 1296.65,94 1299.95,94 1303.25,94 1306.55,94 1309.85,94 1313.14,94 1316.44,94 1319.74,94 1323.04,94 1326.34,94 1329.64,94 1332.94,94 1336.24,94 1339.54,94 1342.84,94 1346.13,94 1349.43,94 1352.73,94 1356.03,94 1359.33,94 1362.63,94 1365.93,94 1369.23,94 1372.53,94 1375.83,94 1379.12,94 1382.42,94 1385.72,94 1389.02,94 1392.32,94 1395.62,94 1398.92,94 1402.22,94 1405.52,94 1408.82,94 1412.12,94 1415.41,94 1418.71,94 1422.01,94 1425.31,94 1428.61,94 1431.91,94 1435.21,94 1438.51,94 1441.81,94 1445.11,94 1448.4,94 1451.7,94 1455,94 1458.3,94 1461.6,94 1464.9,94 1468.2,94 1471.5,94 1474.8,94 1478.09,94 1481.39,94 1484.69,94 1487.99,94 1491.29,94 1494.59,94 1497.89,94 1501.19,94 1504.49,94 1507.79,94 1511.09,94 1514.38,94 1517.68,94 1520.98,94 1524.28,94 1527.58,94 1530.88,94 1534.18,94 1537.48,94 1540.78,94 1544.08,94 1547.37,94 1550.67,94 1553.97,94 1557.27,94 1560.57,94 1563.87,94 1567.17,94 1570.47,94 1573.77,94 1577.07,94 1580.36,94 1583.66,94 1586.96,94 1590.26,94 1593.56,94 1596.86,94 1600.16,94 1603.46,94 1606.76,94 1610.06,94 1613.35,94 1616.65,94 1619.95,94 1623.25,94 1626.55,94 1629.85,94 1633.15,94 1636.45,94 1639.75,94 1643.04,94 1646.34,94 1649.64,94 1652.94,94 1656.24,94 1659.54,94 1662.84,94 1666.14,94 1669.44,94 1672.74,94 1676.04,94 1679.33,94 1682.63,94 1685.93,94 1689.23,94 1692.53,94 1695.83,94 1699.13,94 1702.43,94 1705.73,94 1709.03,94 1712.32,94 1715.62,94 1718.92,94 1722.22,94 1725.52,94 1728.82,94 1732.12,94 1735.42,94 1738.72,94 1742.01,94 1745.31,94 1748.61,94 1751.91,94 1755.21,94 1758.51,94 1761.81,94 1765.11,94 1768.41,94 1771.71,94 1775.01,94 1778.3,94 1781.6,94 1784.9,94 1788.2,94 1791.5,94"/>
</g>
<rect x="1355" y="165" width="420" height="268" fill="#fff"/>
<g fill="#262626" shape-rendering="crispEdges">
<rect x="1355" y="165" width="420" height="3"/>
<rect x="1355" y="429" width="420" height="4"/>
<rect x="1355" y="165" width="4" height="268"/>
<rect x="1772" y="165" width="3" height="268"/>
</g>
<g shape-rendering="crispEdges">
<rect x="1372" y="199" width="115" height="11" fill="#0072BD"/>
<rect x="1372" y="262" width="115" height="11" fill="#D95319"/>
<rect x="1372" y="325" width="115" height="11" fill="#EDB120"/>
<rect x="1372" y="387" width="115" height="12" fill="#7E2F8E"/>
</g>
<text aria-label="β=0.1, λ=0.1" transform="translate(0 224.2) scale(1 1.035)" font-size="45.5" fill="#000"><tspan x="1498.9" font-style="italic" font-size="43.8">β</tspan><tspan x="1524.3" dy="2.0" font-family="'WenQuanYi Zen Hei', 'Liberation Serif', serif" font-size="42">=</tspan><tspan x="1550.5" dy="-2.0" dx="0 0 1 -1">0.1, </tspan><tspan x="1640.6" dy="1.6" font-family="'DejaVu Sans', 'Liberation Sans', sans-serif" font-size="43.6">λ</tspan><tspan x="1667.3" dy="0.4" font-family="'WenQuanYi Zen Hei', 'Liberation Serif', serif" font-size="42">=</tspan><tspan x="1694.0" dy="-2.0" dx="0 0 0.8">0.1</tspan></text>
<text aria-label="β=0.2, λ=0.1" transform="translate(0 285.2) scale(1 1.035)" font-size="45.5" fill="#000"><tspan x="1498.9" font-style="italic" font-size="43.8">β</tspan><tspan x="1524.3" dy="2.0" font-family="'WenQuanYi Zen Hei', 'Liberation Serif', serif" font-size="42">=</tspan><tspan x="1550.5" dy="-2.0">0.2, </tspan><tspan x="1640.6" dy="1.6" font-family="'DejaVu Sans', 'Liberation Sans', sans-serif" font-size="43.6">λ</tspan><tspan x="1667.3" dy="0.4" font-family="'WenQuanYi Zen Hei', 'Liberation Serif', serif" font-size="42">=</tspan><tspan x="1694.0" dy="-2.0" dx="0 0 0.8">0.1</tspan></text>
<text aria-label="β=0.1, λ=0.2" transform="translate(0 349.2) scale(1 1.035)" font-size="45.5" fill="#000"><tspan x="1498.9" font-style="italic" font-size="43.8">β</tspan><tspan x="1524.3" dy="2.0" font-family="'WenQuanYi Zen Hei', 'Liberation Serif', serif" font-size="42">=</tspan><tspan x="1550.5" dy="-2.0" dx="0 0 1 -1">0.1, </tspan><tspan x="1640.6" dy="1.6" font-family="'DejaVu Sans', 'Liberation Sans', sans-serif" font-size="43.6">λ</tspan><tspan x="1667.3" dy="0.4" font-family="'WenQuanYi Zen Hei', 'Liberation Serif', serif" font-size="42">=</tspan><tspan x="1694.0" dy="-2.0">0.2</tspan></text>
<text aria-label="β=0.2, λ=0.2" transform="translate(0 410.2) scale(1 1.035)" font-size="45.5" fill="#000"><tspan x="1498.9" font-style="italic" font-size="43.8">β</tspan><tspan x="1524.3" dy="2.0" font-family="'WenQuanYi Zen Hei', 'Liberation Serif', serif" font-size="42">=</tspan><tspan x="1550.5" dy="-2.0">0.2, </tspan><tspan x="1640.6" dy="1.6" font-family="'DejaVu Sans', 'Liberation Sans', sans-serif" font-size="43.6">λ</tspan><tspan x="1667.3" dy="0.4" font-family="'WenQuanYi Zen Hei', 'Liberation Serif', serif" font-size="42">=</tspan><tspan x="1694.0" dy="-2.0">0.2</tspan></text>
<g fill="#fff">
<rect x="941.04" y="1464.52" width="9.84" height="5.78"/>
<rect x="955.44" y="1464.52" width="9.63" height="5.78"/>
<rect x="1105.99" y="1464.52" width="9.84" height="5.78"/>
<rect x="1120.39" y="1464.52" width="9.63" height="5.78"/>
<rect x="1270.94" y="1464.52" width="9.84" height="5.78"/>
<rect x="1285.34" y="1464.52" width="9.63" height="5.78"/>
<rect x="1435.89" y="1464.52" width="9.84" height="5.78"/>
<rect x="1450.29" y="1464.52" width="9.63" height="5.78"/>
<rect x="1600.84" y="1464.52" width="9.84" height="5.78"/>
<rect x="1615.24" y="1464.52" width="9.63" height="5.78"/>
<rect x="93.69" y="1280.22" width="9.84" height="5.78"/>
<rect x="108.09" y="1280.22" width="9.63" height="5.78"/>
<rect x="94.59" y="110.22" width="9.84" height="5.78"/>
<rect x="108.99" y="110.22" width="9.63" height="5.78"/>
<rect x="1591.95" y="219.83" width="8.83" height="5.37"/>
<rect x="1604.87" y="219.83" width="8.64" height="5.37"/>
<rect x="1735.25" y="219.83" width="8.83" height="5.37"/>
<rect x="1748.17" y="219.83" width="8.64" height="5.37"/>
<rect x="1735.25" y="280.83" width="8.83" height="5.37"/>
<rect x="1748.17" y="280.83" width="8.64" height="5.37"/>
<rect x="1591.95" y="344.83" width="8.83" height="5.37"/>
<rect x="1604.87" y="344.83" width="8.64" height="5.37"/>
</g>
</svg></body></html>
